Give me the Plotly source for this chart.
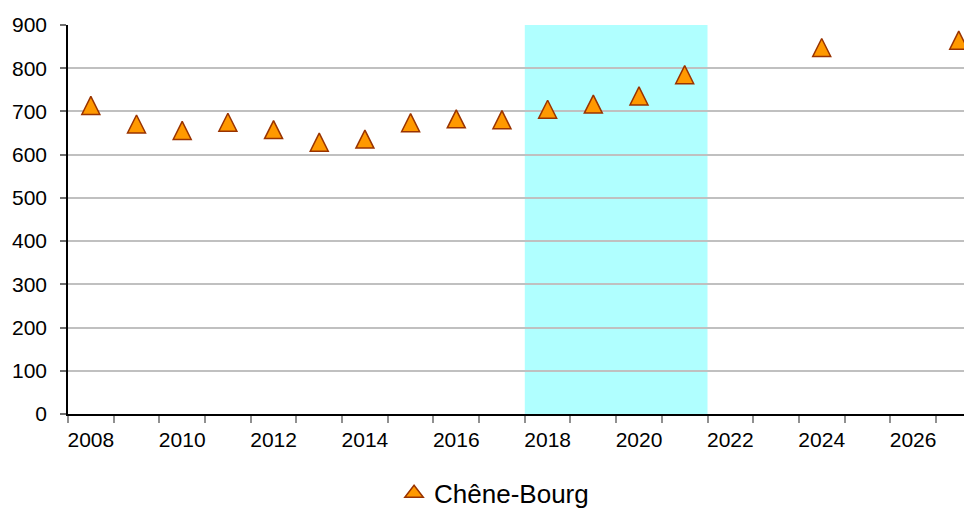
import plotly.graph_objects as go

years = [2008, 2009, 2010, 2011, 2012, 2013, 2014, 2015, 2016, 2017,
         2018, 2019, 2020, 2021, 2024, 2027]
values = [714, 671, 656, 675, 658, 629, 636, 674, 683, 681,
          705, 717, 736, 785, 848, 865]
series_name = "Chêne-Bourg"
x_tick_vals = [2008, 2010, 2012, 2014, 2016, 2018, 2020, 2022, 2024, 2026]
x_tick_text = [str(v) for v in x_tick_vals]
y_tick_vals = [0, 100, 200, 300, 400, 500, 600, 700, 800, 900]
band_start, band_end = 2017.5, 2021.5

fill_color = "#FF9900"
edge_color = "#993300"

fig = go.Figure()

# data markers (upright triangle centred on the value)
fig.add_trace(go.Scatter(
    x=years, y=values, mode="markers", name=series_name, showlegend=False,
    marker=dict(symbol="arrow-down", angle=180, standoff=9, size=18,
                color=fill_color, line=dict(color=edge_color, width=1.5)),
    cliponaxis=False,
))

# legend entry
fig.add_trace(go.Scatter(
    x=[None], y=[None], mode="markers", name=series_name, showlegend=True,
    marker=dict(symbol="triangle-up", size=16,
                color=fill_color, line=dict(color=edge_color, width=1.5)),
))

fig.add_shape(type="rect", xref="x", yref="y", x0=band_start, x1=band_end,
              y0=0, y1=900, fillcolor="#B0FFFF", line=dict(width=0), layer="below")

# page body has an 8px default margin, so the figure is sized to fill the rest
fig.update_layout(
    width=964, height=501,
    margin=dict(l=60, r=0, t=17, b=95, autoexpand=False),
    paper_bgcolor="white", plot_bgcolor="white",
    font=dict(family="Liberation Sans, Arial, sans-serif", size=21, color="black"),
    showlegend=True,
    legend=dict(orientation="h", x=0.4713, xanchor="center", y=-0.204, yanchor="middle",
                font=dict(size=26)),
    xaxis=dict(range=[2007.5, 2027.29], tickmode="array", tickvals=x_tick_vals,
               ticktext=x_tick_text, ticks="", showgrid=False, zeroline=False,
               automargin=False, ticklabelstandoff=6,
               showline=True, linecolor="black", linewidth=1.5,
               minor=dict(ticks="outside", tickmode="linear", tick0=2007.5, dtick=1,
                          ticklen=7, tickcolor="#909090", tickwidth=1.5, showgrid=False)),
    yaxis=dict(range=[0, 900], tickmode="array", tickvals=y_tick_vals,
               showgrid=True, gridcolor="#C0C0C0", gridwidth=2, zeroline=False,
               automargin=False, ticklabelstandoff=9,
               showline=True, linecolor="black", linewidth=1.5,
               ticks="outside", ticklen=6, tickcolor="#707070", tickwidth=1.5),
)

fig.write_html("out.html")
